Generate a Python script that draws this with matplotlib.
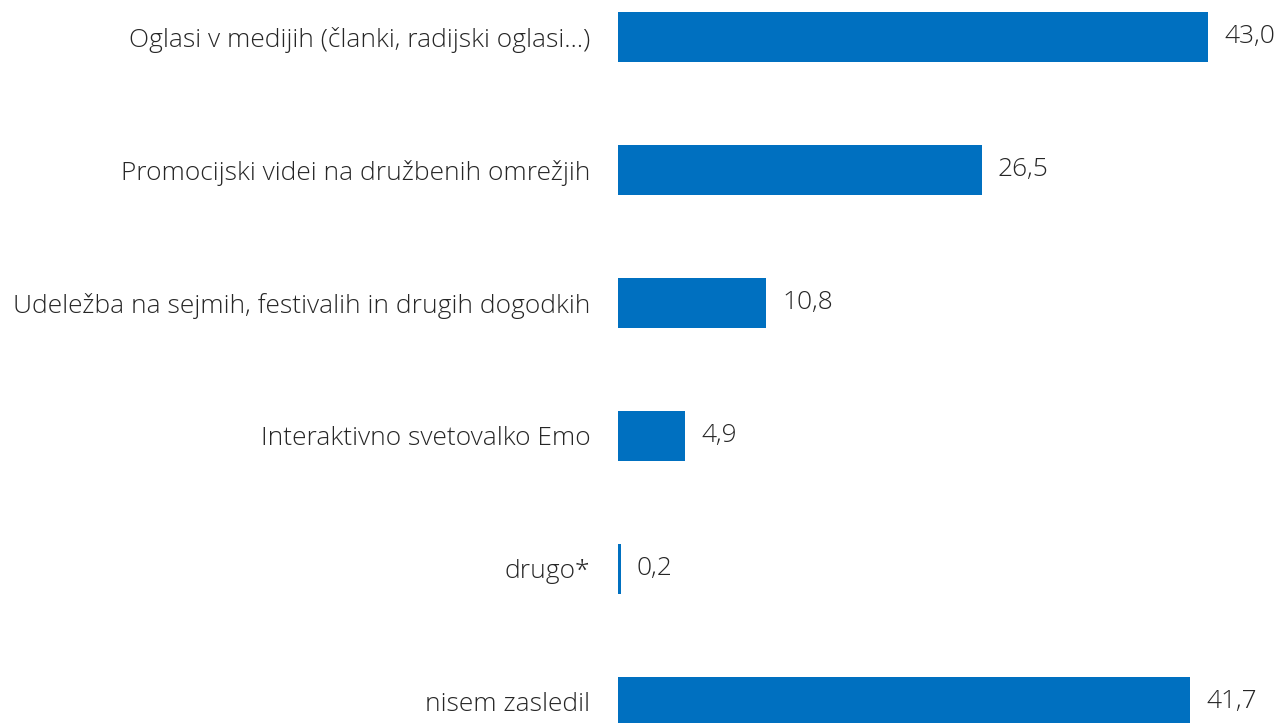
import matplotlib.pyplot as plt

# data
categories = [
    'Oglasi v medijih (članki, radijski oglasi…)',
    'Promocijski videi na družbenih omrežjih',
    'Udeležba na sejmih, festivalih in drugih dogodkih',
    'Interaktivno svetovalko Emo',
    'drugo*',
    'nisem zasledil',
]
values = [43.0, 26.5, 10.8, 4.9, 0.2, 41.7]
value_labels = ['43,0', '26,5', '10,8', '4,9', '0,2', '41,7']

bar_color = '#0070C0'
text_color = '#262626'

plt.rcParams['font.family'] = ['Open Sans', 'DejaVu Sans']

fig = plt.figure(figsize=(12.81, 7.23), dpi=100)
ax = fig.add_axes([618 / 1281, 0, 1 - 618 / 1281, 1])

pos = list(range(len(categories)))
ax.barh(pos, values, height=0.376, color=bar_color)

for y, v, lab in zip(pos, values, value_labels):
    ax.annotate(lab, (v, y), xytext=(16, 0), textcoords='offset pixels',
                va='center', ha='left', fontsize=19, color=text_color,
                fontweight='light')

ax.set_yticks(pos)
ax.set_yticklabels(categories, fontsize=19, color=text_color, fontweight='light')
ax.tick_params(axis='y', length=0, pad=20)
ax.set_xticks([])
ax.set_xlim(0, 663 / 13.72)
ax.set_ylim(5.158, -0.278)
for s in ax.spines.values():
    s.set_visible(False)

fig.savefig('out.png', dpi=100)
